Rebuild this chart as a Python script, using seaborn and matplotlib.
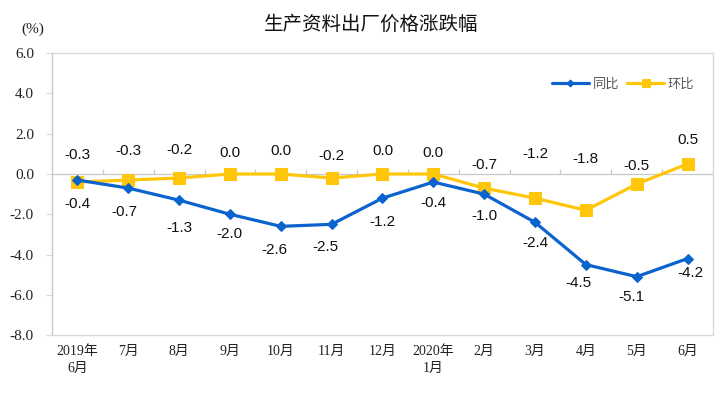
import numpy as np
import pandas as pd
import matplotlib
matplotlib.use("Agg")
import matplotlib.pyplot as plt
import seaborn as sns

# data
months = ["2019年\n6月", "7月", "8月", "9月", "10月", "11月", "12月",
          "2020年\n1月", "2月", "3月", "4月", "5月", "6月"]
yoy = [-0.3, -0.7, -1.3, -2.0, -2.6, -2.5, -1.2, -0.4, -1.0, -2.4, -4.5, -5.1, -4.2]
mom = [-0.4, -0.3, -0.2, 0.0, 0.0, -0.2, 0.0, 0.0, -0.7, -1.2, -1.8, -0.5, 0.5]
y_ticks = [6.0, 4.0, 2.0, 0.0, -2.0, -4.0, -6.0, -8.0]

# label placement (pixels above the higher point / below the lower point)
upper_dy = [25, 29, 28, 21, 23, 22, 23, 21, 23, 44, 51, 18, 24]
lower_dy = [22, 24, 28, 20, 24, 23, 24, 21, 22, 21, 18, 20, 14]
lower_dx = [0, -4, 0, 0, -6, -6, 0, 0, 0, 0, -7, -5, 3]

BLUE = "#0B63CE"
GOLD = "#FFC60A"
GRID = "#D9D9D9"

sns.set_style("white")
plt.rcParams["font.family"] = ["Liberation Serif", "Noto Sans CJK SC"]

df = pd.DataFrame({"x": np.arange(len(months)), "同比": yoy, "环比": mom})

fig = plt.figure(figsize=(7.2, 3.97), dpi=100)
ax = fig.add_axes([0.0722, 0.156, 0.918, 0.710])

sns.lineplot(data=df, x="x", y="同比", ax=ax, color=BLUE, lw=2.3,
             marker="D", markersize=5.5, markeredgecolor=BLUE, label="同比", zorder=4)
sns.lineplot(data=df, x="x", y="环比", ax=ax, color=GOLD, lw=2.3,
             marker="s", markersize=8.5, markeredgecolor=GOLD, label="环比", zorder=3)

ax.set_xlim(-0.5, len(months) - 0.5)
ax.set_ylim(-8, 6)
ax.set_yticks(y_ticks)
ax.set_yticklabels([f"{v:.1f}" for v in y_ticks], fontsize=11, color="#222222")
ax.set_xticks(df["x"])
ax.set_xticklabels(months, fontsize=10, color="#222222", linespacing=1.4)
ax.tick_params(axis="y", length=4, color=GRID, pad=9, left=True)
ax.tick_params(axis="x", length=0, pad=7)
ax.set_xlabel("")
ax.set_ylabel("")

for s in ax.spines.values():
    s.set_color(GRID)
    s.set_linewidth(1.0)
ax.spines["left"].set_color("#C8C8C8")

# zero line with category boundary ticks
ax.axhline(0, color="#C8C8C8", lw=0.9, zorder=1)
ax.vlines(np.arange(0.5, len(months) - 0.5, 1), 0, 0.25, color="#C8C8C8", lw=0.9, zorder=1)

# value labels
for i in range(len(months)):
    hi, lo = max(yoy[i], mom[i]), min(yoy[i], mom[i])
    ax.annotate(f"{hi:.1f}", (i, hi), xytext=(0, upper_dy[i] * 0.72),
                textcoords="offset points", ha="center", va="center",
                fontsize=11, family="Liberation Sans", color="#111111")
    ax.annotate(f"{lo:.1f}", (i, lo), xytext=(lower_dx[i] * 0.72, -lower_dy[i] * 0.72),
                textcoords="offset points", ha="center", va="center",
                fontsize=11, family="Liberation Sans", color="#111111")

leg = ax.legend(loc="upper right", bbox_to_anchor=(0.99, 0.955), ncol=2, frameon=False,
                handlelength=2.8, columnspacing=0.6, handletextpad=0.3,
                prop={"family": ["Noto Sans CJK SC"], "size": 9.5})
leg_lines = leg.get_lines()
leg_lines[0].set_markersize(3.5)
leg_lines[1].set_markersize(5.5)
for t in leg.get_texts():
    t.set_color("#595959")

fig.text(0.515, 0.94, "生产资料出厂价格涨跌幅", ha="center", va="center",
         fontsize=14, family=["Noto Sans CJK SC"], color="#111111")
fig.text(0.046, 0.927, "(%)", ha="center", va="center", fontsize=11, color="#222222")

fig.savefig("out.png", dpi=100)
